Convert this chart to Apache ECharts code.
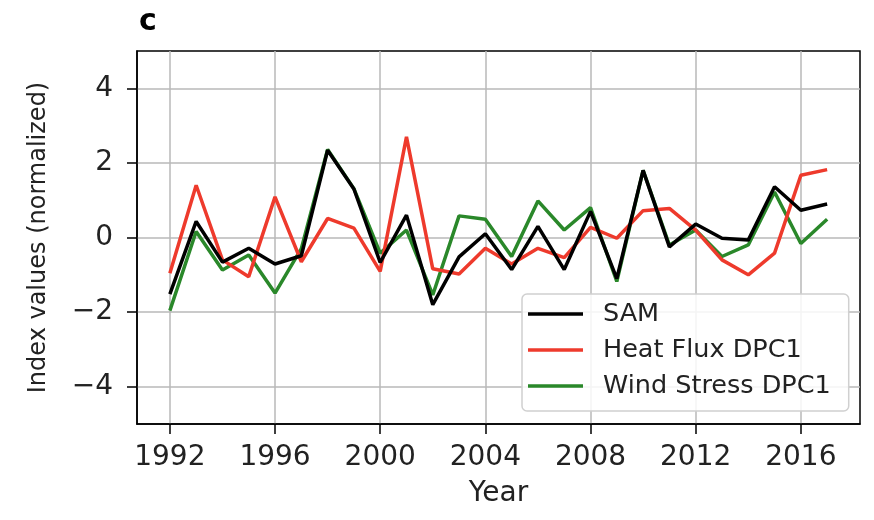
<!DOCTYPE html>
<html>
<head>
<meta charset="utf-8">
<script src="https://cdn.jsdelivr.net/npm/echarts@6/dist/echarts.min.js"></script>
<style>
html,body{margin:0;padding:0;background:#fff;}
#chart{width:874px;height:520px;}
</style>
</head>
<body>
<div id="chart"></div>
<script>
const years = [1992,1993,1994,1995,1996,1997,1998,1999,2000,2001,2002,2003,2004,2005,2006,2007,2008,2009,2010,2011,2012,2013,2014,2015,2016,2017];
const sam = [-1.52,0.43,-0.66,-0.29,-0.71,-0.49,2.34,1.3,-0.67,0.6,-1.8,-0.52,0.1,-0.86,0.3,-0.86,0.7,-1.1,1.8,-0.25,0.36,-0.02,-0.07,1.36,0.73,0.9];
const heatFlux = [-0.96,1.4,-0.6,-1.05,1.09,-0.65,0.51,0.25,-0.91,2.7,-0.84,-0.98,-0.29,-0.71,-0.29,-0.54,0.27,-0.02,0.72,0.78,0.2,-0.6,-1.0,-0.42,1.67,1.82];
const windStress = [-1.96,0.16,-0.87,-0.47,-1.49,-0.3,2.36,1.31,-0.42,0.2,-1.54,0.58,0.49,-0.51,0.98,0.2,0.8,-1.18,1.8,-0.2,0.2,-0.51,-0.2,1.22,-0.16,0.49];
const xTicks = [1992,1996,2000,2004,2008,2012,2016];
const yTicks = [-4,-2,0,2,4];
const seriesNames = ['SAM','Heat Flux DPC1','Wind Stress DPC1'];
const seriesColors = ['#000000','#ee3a2c','#2a882a'];

const FONT = 'DejaVu Sans';
const chart = echarts.init(document.getElementById('chart'));
const pair = arr => years.map((y,i)=>[y,arr[i]]);
const fmtNum = v => (v < 0 ? '\u2212' + Math.abs(v) : String(v));

chart.setOption({
  animation:false,
  backgroundColor:'#fff',
  title:{text:'c',left:134,top:2,textStyle:{fontFamily:FONT,fontWeight:'bold',fontSize:30,color:'#000'}},
  grid:{left:137,right:14,top:51,bottom:96,show:true,borderColor:'#000',borderWidth:1.5,backgroundColor:'transparent'},
  xAxis:{
    type:'value',min:1990.75,max:2018.25,
    name:'Year',nameLocation:'middle',nameGap:56,
    nameTextStyle:{fontFamily:FONT,fontSize:28,color:'#222'},
    axisLine:{show:true,onZero:false,lineStyle:{color:'#000',width:1.5}},
    axisTick:{show:true,inside:false,length:10,customValues:xTicks,lineStyle:{color:'#000',width:1.5}},
    axisLabel:{customValues:xTicks,fontFamily:FONT,fontSize:28,color:'#222',margin:20,formatter:v=>String(v)},
    splitLine:{show:true,lineStyle:{color:'#b8b8b8',width:1.5}}
  },
  yAxis:{
    type:'value',min:-5,max:5,
    name:'Index values (normalized)',nameLocation:'middle',nameGap:86,nameRotate:90,
    nameTextStyle:{fontFamily:FONT,fontSize:24,color:'#222'},
    axisLine:{show:true,onZero:false,lineStyle:{color:'#000',width:1.5}},
    axisTick:{show:true,inside:false,length:10,customValues:yTicks,lineStyle:{color:'#000',width:1.5}},
    axisLabel:{customValues:yTicks,fontFamily:FONT,fontSize:28,color:'#222',margin:24,formatter:fmtNum},
    splitLine:{show:true,lineStyle:{color:'#b8b8b8',width:1.5}}
  },
  legend:{
    orient:'vertical',left:522,top:294,
    padding:[5,18,10,6],itemGap:6,itemWidth:55,itemHeight:3.5,icon:'rect',
    backgroundColor:'rgba(255,255,255,0.85)',borderColor:'#d0d0d0',borderWidth:1.5,borderRadius:5,
    textStyle:{fontFamily:FONT,fontSize:25.5,color:'#222',lineHeight:30,padding:[0,0,0,15]},
    data:seriesNames
  },
  series:[sam,heatFlux,windStress].map((arr,i)=>({
    name:seriesNames[i],type:'line',data:pair(arr),showSymbol:false,symbol:'none',
    lineStyle:{color:seriesColors[i],width:3.5},itemStyle:{color:seriesColors[i]},z:3-i
  }))
});
</script>
</body>
</html>
